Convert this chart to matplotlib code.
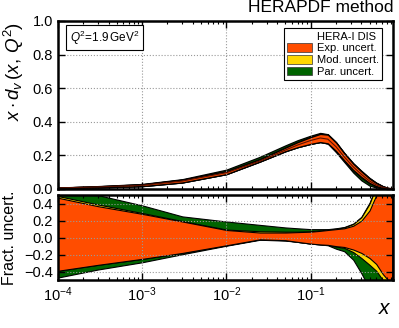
import numpy as np
import matplotlib
matplotlib.use('Agg')
import matplotlib.pyplot as plt
from matplotlib.patches import Patch

plt.rcParams['font.family'] = ['Liberation Sans', 'DejaVu Sans']
plt.rcParams['mathtext.fontset'] = 'custom'
plt.rcParams['mathtext.rm'] = 'Liberation Sans'
plt.rcParams['mathtext.it'] = 'Liberation Sans:italic'
plt.rcParams['axes.unicode_minus'] = True

# x grid
x = [1e-4, 3e-4, 1e-3, 3e-3, 0.01, 0.025, 0.05, 0.07, 0.1, 0.13, 0.16, 0.2, 0.25,
     0.32, 0.4, 0.5, 0.6, 0.72, 0.83, 0.93]

# central x*d_v
xdv = [0.004, 0.01, 0.02, 0.045, 0.095, 0.165, 0.23, 0.26, 0.287, 0.302, 0.295, 0.25, 0.19,
       0.13, 0.085, 0.045, 0.022, 0.008, 0.002, 0.0005]

# fractional uncertainty band edges
exp_up = [0.47, 0.37, 0.28, 0.19, 0.09, 0.06, 0.06, 0.065, 0.07, 0.08, 0.09, 0.10, 0.11,
          0.14, 0.20, 0.32, 0.50, 0.70, 0.80, 0.90]
exp_dn = [-0.39, -0.32, -0.25, -0.18, -0.09, -0.02, -0.03, -0.05, -0.07, -0.08, -0.085, -0.10, -0.11,
          -0.14, -0.18, -0.24, -0.31, -0.43, -0.50, -0.60]
mod_up = [0.49, 0.39, 0.29, 0.195, 0.095, 0.075, 0.07, 0.07, 0.075, 0.085, 0.095, 0.105, 0.12,
          0.16, 0.24, 0.40, 0.60, 0.80, 0.90, 0.95]
mod_dn = [-0.39, -0.32, -0.25, -0.18, -0.09, -0.02, -0.03, -0.05, -0.07, -0.08, -0.085, -0.105, -0.12,
          -0.17, -0.24, -0.32, -0.39, -0.50, -0.60, -0.70]
par_up = [0.60, 0.50, 0.38, 0.25, 0.19, 0.15, 0.12, 0.11, 0.10, 0.10, 0.10, 0.11, 0.125,
          0.165, 0.245, 0.41, 0.61, 0.81, 0.91, 0.96]
par_dn = [-0.47, -0.375, -0.29, -0.195, -0.095, -0.025, -0.035, -0.05, -0.07, -0.08, -0.09, -0.13, -0.16,
          -0.26, -0.42, -0.60, -0.70, -0.80, -0.85, -0.90]

c_exp = '#ff4d00'
c_mod = '#ffd700'
c_par = '#006400'

x = np.array(x)
xdv = np.array(xdv)

fig = plt.figure(figsize=(3.99, 3.28), dpi=100)
ax1 = fig.add_axes([0.145, 0.425, 0.84, 0.511])
ax2 = fig.add_axes([0.145, 0.146, 0.84, 0.259])

bands = [(par_dn, par_up, c_par), (mod_dn, mod_up, c_mod), (exp_dn, exp_up, c_exp)]

for lo, hi, col in bands:
    lo = np.array(lo)
    hi = np.array(hi)
    ax1.fill_between(x, xdv * (1 + lo), xdv * (1 + hi), facecolor=col,
                     edgecolor='black', linewidth=0.9)
    ax2.fill_between(x, lo, hi, facecolor=col, edgecolor='black', linewidth=0.8)
ax1.plot(x, xdv, color='#5a1000', linewidth=0.8)

for ax in (ax1, ax2):
    ax.set_xscale('log')
    ax.set_xlim(1e-4, 0.95)
    ax.grid(True, which='major', linestyle=':', color='#999999', linewidth=0.8)
    ax.tick_params(which='both', direction='in', top=True, right=True, labelsize=10.5)
    ax.tick_params(which='major', length=5, width=1)
    ax.tick_params(which='minor', length=2.5, width=0.8)
    for s in ax.spines.values():
        s.set_linewidth(1.8)

ax1.set_ylim(0, 1)
ax1.set_yticks([0.0, 0.2, 0.4, 0.6, 0.8, 1.0])
ax1.set_yticklabels(['0.0', '0.2', '0.4', '0.6', '0.8', '1.0'])
ax1.tick_params(labelbottom=False)
ax1.set_ylabel(r'$x \cdot d_v\,(x,\,Q^2)$', fontsize=13.5, ha='right')
ax1.yaxis.set_label_coords(-0.095, 0.995)

ax2.set_ylim(-0.5, 0.5)
ax2.set_yticks([-0.4, -0.2, 0.0, 0.2, 0.4])
ax2.set_yticklabels(['\u22120.4', '\u22120.2', '0.0', '0.2', '0.4'])
ax2.set_ylabel('Fract. uncert.', fontsize=11.5)
ax2.yaxis.set_label_coords(-0.122, 0.5)

fig.text(0.985, 0.955, 'HERAPDF method', ha='right', va='bottom', fontsize=12.5)
fig.text(0.983, 0.03, r'$x$', ha='right', va='bottom', fontsize=15)

ax1.text(0.035, 0.955, r'$Q^2$=1.9$\,$GeV$^2$', transform=ax1.transAxes,
         ha='left', va='top', fontsize=8.5,
         bbox=dict(boxstyle='square,pad=0.3', facecolor='white', edgecolor='black', linewidth=0.8))

handles = [Patch(facecolor='none', edgecolor='none'),
           Patch(facecolor=c_exp, edgecolor='#333333', linewidth=0.5),
           Patch(facecolor=c_mod, edgecolor='#333333', linewidth=0.5),
           Patch(facecolor=c_par, edgecolor='#333333', linewidth=0.5)]
labels = ['HERA-I DIS', 'Exp. uncert.', 'Mod. uncert.', 'Par. uncert.']
leg = ax1.legend(handles, labels, loc='upper right', fontsize=8, fancybox=False,
                 framealpha=1, edgecolor='black', handlelength=2.2, handleheight=0.8,
                 labelspacing=0.15, borderpad=0.3, handletextpad=0.5,
                 bbox_to_anchor=(0.985, 0.99))
leg.get_frame().set_linewidth(0.8)

fig.savefig('out.png', dpi=100)
